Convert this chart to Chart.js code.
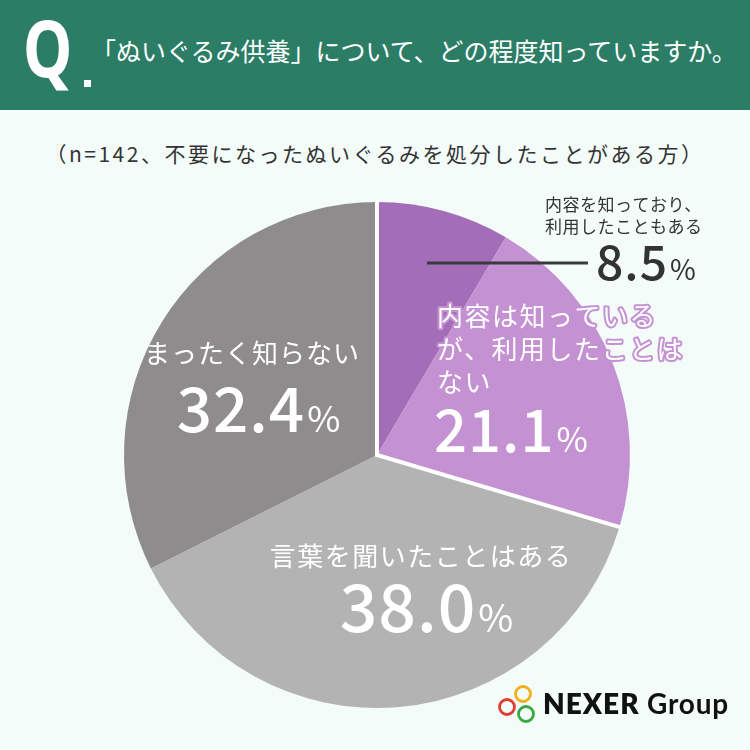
<!DOCTYPE html>
<html><head><meta charset="utf-8">
<script src="https://cdn.jsdelivr.net/npm/chart.js@4.4.1/dist/chart.umd.min.js"></script>
<style>
html,body{margin:0;padding:0;}
body{width:750px;height:750px;background:#f3fcf9;position:relative;overflow:hidden;font-family:"Noto Sans CJK JP",sans-serif;}
#hdr{position:absolute;left:0;top:0;width:750px;height:110px;background:#2b7d66;}
#q{position:absolute;left:23px;top:8px;color:#fff;font:700 78px "Noto Sans";line-height:1;transform:scaleX(0.8);transform-origin:left top;}
#dot{position:absolute;left:84px;top:80px;width:7px;height:7px;background:#fff;}
#title{position:absolute;left:91px;top:30px;color:#fff;font-size:25px;line-height:40px;white-space:nowrap;letter-spacing:0px;}
#sub{position:absolute;left:0;width:750px;text-align:center;top:135px;color:#333;font-size:21px;line-height:36px;letter-spacing:2.5px;white-space:nowrap;}
#c{position:absolute;left:0;top:0;}
#logo{position:absolute;left:496px;top:682px;width:240px;height:44px;}
#logotext{position:absolute;left:543px;top:683px;font:800 28px "Lato";color:#111;letter-spacing:1px;white-space:nowrap;line-height:40px;}
#logotext span{font-weight:700;letter-spacing:0.8px;}
</style>
</head><body>
<div id="hdr"><div id="q">Q</div><div id="dot"></div><div id="title">「ぬいぐるみ供養」について、どの程度知っていますか。</div></div>
<div id="sub">（n=142、不要になったぬいぐるみを処分したことがある方）</div>
<canvas id="c" width="750" height="750"></canvas>
<svg id="logo" viewBox="0 0 240 44" width="240" height="44">
  <circle cx="27" cy="12" r="7.5" fill="none" stroke="#f2b01e" stroke-width="2.8"/>
  <circle cx="11" cy="25" r="7.5" fill="none" stroke="#e03c31" stroke-width="2.8"/>
  <circle cx="30" cy="32" r="7.5" fill="none" stroke="#3aa845" stroke-width="2.8"/>
</svg>
<div id="logotext">NEXER <span>Group</span></div>
<script>
const categories = ['内容を知っており、利用したこともある', '内容は知っているが、利用したことはない', '言葉を聞いたことはある', 'まったく知らない'];
const values = [8.5, 21.1, 38.0, 32.4];
const sliceColors = ['#a46db8', '#c492d2', '#b3b3b3', '#8f8c8d'];
const labelLines = [['内容を知っており、', '利用したこともある'], ['内容は知っている', 'が、利用したことは', 'ない'], ['言葉を聞いたことはある'], ['まったく知らない']];

const JP = '"Noto Sans CJK JP", sans-serif';

function drawValue(ctx, txt, x, y, size, pctSize, align, fill, stroke, strokeW, weight) {
  ctx.letterSpacing = '1px';
  ctx.font = weight + ' ' + size + 'px ' + JP;
  const w1 = ctx.measureText(txt).width;
  ctx.font = '400 ' + pctSize + 'px ' + JP;
  const w2 = ctx.measureText('%').width;
  const gap = 2;
  const total = w1 + gap + w2;
  let sx = align === 'center' ? x - total / 2 : x;
  ctx.textAlign = 'left';
  ctx.textBaseline = 'alphabetic';
  const parts = [[txt, size, sx, weight], ['%', pctSize, sx + w1 + gap, 400]];
  for (const [t, s, px, wt] of parts) {
    ctx.font = wt + ' ' + s + 'px ' + JP;
    if (stroke) { ctx.lineWidth = strokeW; ctx.strokeStyle = stroke; ctx.lineJoin = 'round'; ctx.strokeText(t, px, y); }
    ctx.fillStyle = fill; ctx.fillText(t, px, y);
  }
  ctx.letterSpacing = '0px';
}

function drawLines(ctx, lines, x, y, lh, size, align, fill, stroke, strokeW, spacing) {
  ctx.font = '400 ' + size + 'px ' + JP;
  ctx.letterSpacing = spacing + 'px';
  ctx.textAlign = align;
  ctx.textBaseline = 'alphabetic';
  lines.forEach((l, i) => {
    if (stroke) { ctx.lineWidth = strokeW; ctx.strokeStyle = stroke; ctx.lineJoin = 'round'; ctx.strokeText(l, x, y + i * lh); }
    ctx.fillStyle = fill; ctx.fillText(l, x, y + i * lh);
  });
  ctx.letterSpacing = '0px';
}

const gapPlugin = {
  id: 'gap',
  afterDatasetsDraw(chart) {
    const meta = chart.getDatasetMeta(0);
    const a0 = meta.data[0], a1 = meta.data[1];
    const ctx = chart.ctx;
    const cx = a0.x, cy = a0.y, r = a0.outerRadius + 2;
    ctx.save();
    ctx.strokeStyle = '#ffffff';
    ctx.lineWidth = 4;
    ctx.lineJoin = 'miter';
    ctx.beginPath();
    ctx.moveTo(cx + r * Math.cos(a0.startAngle), cy + r * Math.sin(a0.startAngle));
    ctx.lineTo(cx, cy);
    ctx.lineTo(cx + r * Math.cos(a1.endAngle), cy + r * Math.sin(a1.endAngle));
    ctx.stroke();
    ctx.restore();
  }
};

const labelPlugin = {
  id: 'labels',
  afterDraw(chart) {
    const ctx = chart.ctx;
    ctx.save();
    ctx.strokeStyle = '#3a3a3a';
    ctx.lineWidth = 3;
    ctx.beginPath(); ctx.moveTo(427, 263); ctx.lineTo(588, 263); ctx.stroke();
    drawLines(ctx, labelLines[0], 545, 211, 22, 17, 'left', '#333', null, 0, 0.5);
    drawValue(ctx, values[0].toFixed(1), 596, 280, 48, 28, 'left', '#333', null, 0, 500);
    drawLines(ctx, labelLines[1], 437, 326, 33, 26, 'left', '#ffffff', '#c492d2', 4, 1.5);
    drawValue(ctx, values[1].toFixed(1), 434, 452, 58, 34, 'left', '#ffffff', '#c492d2', 4, 500);
    drawLines(ctx, labelLines[2], 421, 566, 30, 26, 'center', '#ffffff', null, 0, 1.5);
    drawValue(ctx, values[2].toFixed(1), 427, 632, 66, 38, 'center', '#ffffff', null, 0, 500);
    drawLines(ctx, labelLines[3], 252, 363, 30, 26, 'center', '#ffffff', null, 0, 1);
    drawValue(ctx, values[3].toFixed(1), 259, 432, 62, 36, 'center', '#ffffff', null, 0, 500);
    ctx.restore();
  }
};

new Chart(document.getElementById('c'), {
  type: 'pie',
  data: { labels: categories, datasets: [{ data: values, backgroundColor: sliceColors, borderWidth: 0 }] },
  options: {
    responsive: false,
    animation: false,
    devicePixelRatio: 1,
    layout: { padding: { left: 124, top: 202, right: 120, bottom: 42 } },
    plugins: { legend: { display: false }, tooltip: { enabled: false } }
  },
  plugins: [gapPlugin, labelPlugin]
});
</script>
</body></html>
